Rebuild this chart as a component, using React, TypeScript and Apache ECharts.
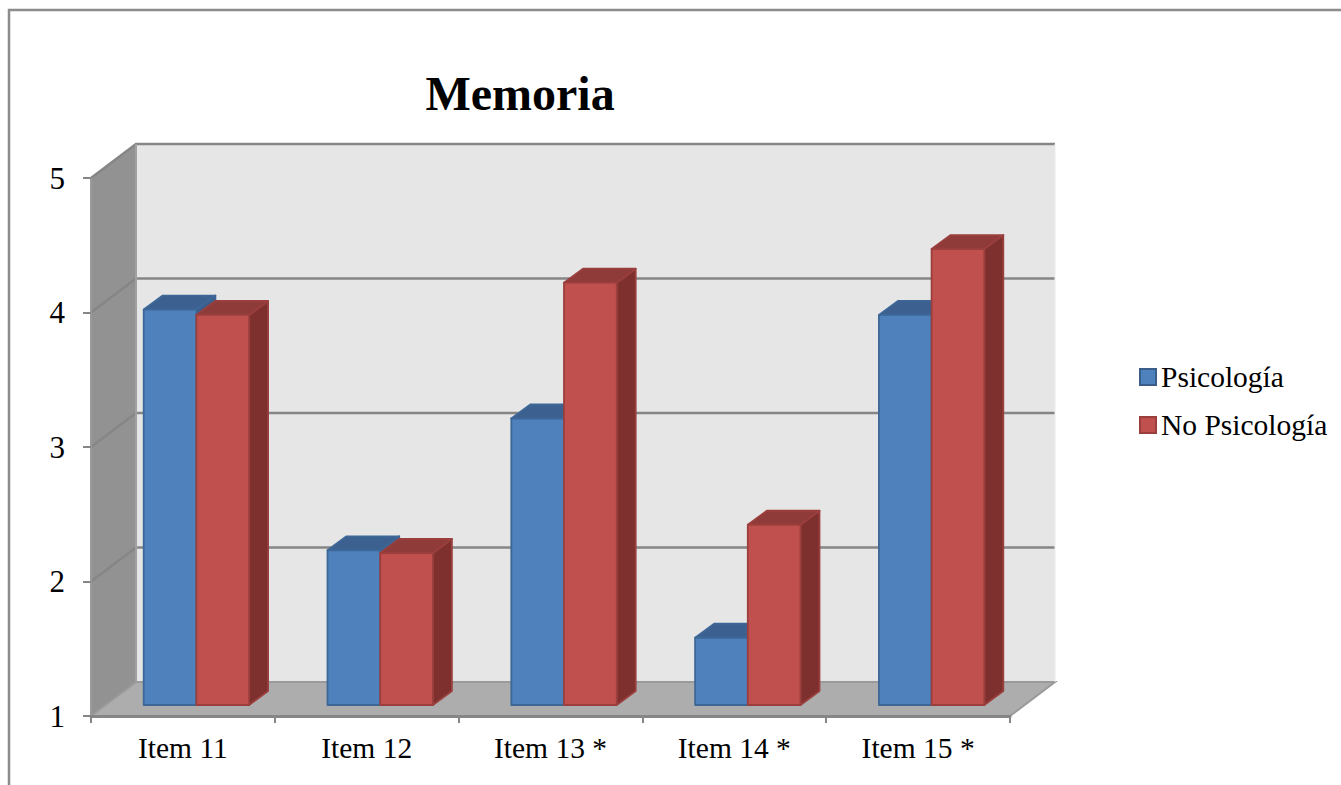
import React, { useEffect, useRef } from "react";
import * as echarts from "echarts";

const categories = ["Item 11", "Item 12", "Item 13 *", "Item 14 *", "Item 15 *"];
const psicologia = [3.94, 2.15, 3.13, 1.5, 3.9];
const noPsicologia = [3.9, 2.13, 4.14, 2.34, 4.39];
const yTicks = [1, 2, 3, 4, 5];

const FONT = "'Liberation Serif', serif";
const GRID_LINE = "#868686";

// Oblique projection: how far the back wall sits from the front axis plane.
const WALL_DX = 45;
const WALL_DY = -34;
// Bars stand on the floor, a little behind the front edge.
const BAR_DX = 14;
const BAR_DY = -11;
const BAR_DEPTH_DX = 19;
const BAR_DEPTH_DY = -14;
const BAR_WIDTH = 52.7;

function renderWalls(params: any, api: any) {
  const cs = params.coordSys;
  const left = cs.x;
  const right = cs.x + cs.width;
  const yOf = (v: number) => api.coord([0, v])[1];
  const top = yOf(5);
  const bottom = yOf(1);
  const poly = (points: number[][], fill: string) => ({
    type: "polygon",
    shape: { points },
    style: { fill, stroke: "none" },
  });
  const line = (pts: number[][], color: string, width = 2.5) => ({
    type: "polyline",
    shape: { points: pts },
    style: { fill: "none", stroke: color, lineWidth: width },
  });
  const backL = left + WALL_DX;
  const backR = right + WALL_DX;
  const children: any[] = [
    poly([[backL, top + WALL_DY], [backR, top + WALL_DY], [backR, bottom + WALL_DY], [backL, bottom + WALL_DY]], "#e6e6e6"),
    poly([[left, top], [backL, top + WALL_DY], [backL, bottom + WALL_DY], [left, bottom]], "#929292"),
    poly([[left, bottom], [backL, bottom + WALL_DY], [backR, bottom + WALL_DY], [right, bottom]], "#adadad"),
  ];
  yTicks.forEach((v) => {
    if (v === 1) return;
    const y = yOf(v);
    children.push(line([[left, y], [backL, y + WALL_DY], [backR, y + WALL_DY]], GRID_LINE));
  });
  children.push(line([[backL, top + WALL_DY], [backL, bottom + WALL_DY]], "#a0a0a0", 2));
  children.push(line([[left, bottom], [backL, bottom + WALL_DY], [backR, bottom + WALL_DY], [right, bottom]], "#9a9a9a", 2));
  children.push(line([[backR, top + WALL_DY], [backR, bottom + WALL_DY]], "#ececec", 1));
  return { type: "group", children };
}

function makeBarRenderer(seriesSlot: number, palette: { front: string; top: string; side: string; edge: string }) {
  return (_params: any, api: any) => {
    const idx = api.value(0);
    const [cx, vy] = api.coord([idx, api.value(1)]);
    const baseY = api.coord([idx, 1])[1] + BAR_DY;
    const x0 = cx + BAR_DX - BAR_WIDTH + seriesSlot * BAR_WIDTH - 0.5;
    const x1 = x0 + BAR_WIDTH;
    const y0 = vy + BAR_DY;
    const dx = BAR_DEPTH_DX;
    const dy = BAR_DEPTH_DY;
    const face = (points: number[][], fill: string) => ({
      type: "polygon",
      shape: { points },
      style: { fill, stroke: palette.edge, lineWidth: 1.8, lineJoin: "round" },
    });
    return {
      type: "group",
      children: [
        face([[x1, y0], [x1 + dx, y0 + dy], [x1 + dx, baseY + dy], [x1, baseY]], palette.side),
        face([[x0, y0], [x0 + dx, y0 + dy], [x1 + dx, y0 + dy], [x1, y0]], palette.top),
        face([[x0, y0], [x1, y0], [x1, baseY], [x0, baseY]], palette.front),
      ],
    };
  };
}

const BLUE = { front: "#4f81bd", top: "#3c6190", side: "#3a5d8a", edge: "#3d6797" };
const RED = { front: "#c0504d", top: "#8f3b39", side: "#7d302e", edge: "#9a3f3d" };

export default function App() {
  const ref = useRef<HTMLDivElement>(null);

  useEffect(() => {
    document.body.style.margin = "0";
    document.body.style.overflow = "hidden";
    const chart = echarts.init(ref.current!, undefined, { renderer: "svg" });
    chart.setOption({
      animation: false,
      backgroundColor: "#ffffff",
      title: {
        text: "Memoria",
        left: 520,
        top: 69,
        padding: 0,
        textAlign: "center",
        textStyle: { fontFamily: FONT, fontSize: 48, fontWeight: "bold", color: "#000" },
      },
      legend: {
        orient: "vertical",
        left: 1139,
        top: 362,
        padding: 0,
        icon: "rect",
        itemWidth: 16,
        itemHeight: 16,
        itemGap: 18,
        data: ["Psicología", "No Psicología"],
        textStyle: { fontFamily: FONT, fontSize: 29.5, color: "#000" },
      },
      grid: { left: 91, top: 178, width: 919, height: 538 },
      xAxis: {
        type: "category",
        data: categories,
        z: 5,
        axisLine: { lineStyle: { color: GRID_LINE, width: 3 } },
        axisTick: { show: true, length: 7, alignWithLabel: false, lineStyle: { color: GRID_LINE, width: 2 } },
        axisLabel: { fontFamily: FONT, fontSize: 29.5, color: "#000", margin: 17 },
        splitLine: { show: false },
      },
      yAxis: {
        type: "value",
        min: 1,
        max: 5,
        interval: 1,
        z: 5,
        axisLine: { show: true, lineStyle: { color: "#9a9a9a", width: 2 } },
        axisTick: { show: true, length: 8, lineStyle: { color: GRID_LINE, width: 2 } },
        axisLabel: { fontFamily: FONT, fontSize: 31, color: "#000", margin: 26, padding: [0, 0, 2, 0] },
        splitLine: { show: false },
      },
      series: [
        {
          type: "custom",
          name: "paredes",
          silent: true,
          clip: false,
          z: 1,
          coordinateSystem: "cartesian2d",
          data: [[0, 1]],
          encode: { x: 0, y: 1 },
          renderItem: renderWalls,
        },
        {
          type: "custom",
          name: "Psicología",
          clip: false,
          z: 2,
          coordinateSystem: "cartesian2d",
          itemStyle: { color: BLUE.front, borderColor: BLUE.side, borderWidth: 1.5 },
          data: psicologia.map((v, i) => [i, v]),
          encode: { x: 0, y: 1 },
          renderItem: makeBarRenderer(0, BLUE),
        },
        {
          type: "custom",
          name: "No Psicología",
          clip: false,
          z: 3,
          coordinateSystem: "cartesian2d",
          itemStyle: { color: RED.front, borderColor: RED.edge, borderWidth: 1.5 },
          data: noPsicologia.map((v, i) => [i, v]),
          encode: { x: 0, y: 1 },
          renderItem: makeBarRenderer(1, RED),
        },
      ],
      graphic: [
        {
          type: "polyline",
          silent: true,
          shape: { points: [[9, 785], [9, 10], [1341, 10]] },
          style: { fill: "none", stroke: "#8c8c8c", lineWidth: 2.5 },
        },
      ],
    });
    return () => chart.dispose();
  }, []);

  return <div ref={ref} style={{ width: 1341, height: 785 }} />;
}
